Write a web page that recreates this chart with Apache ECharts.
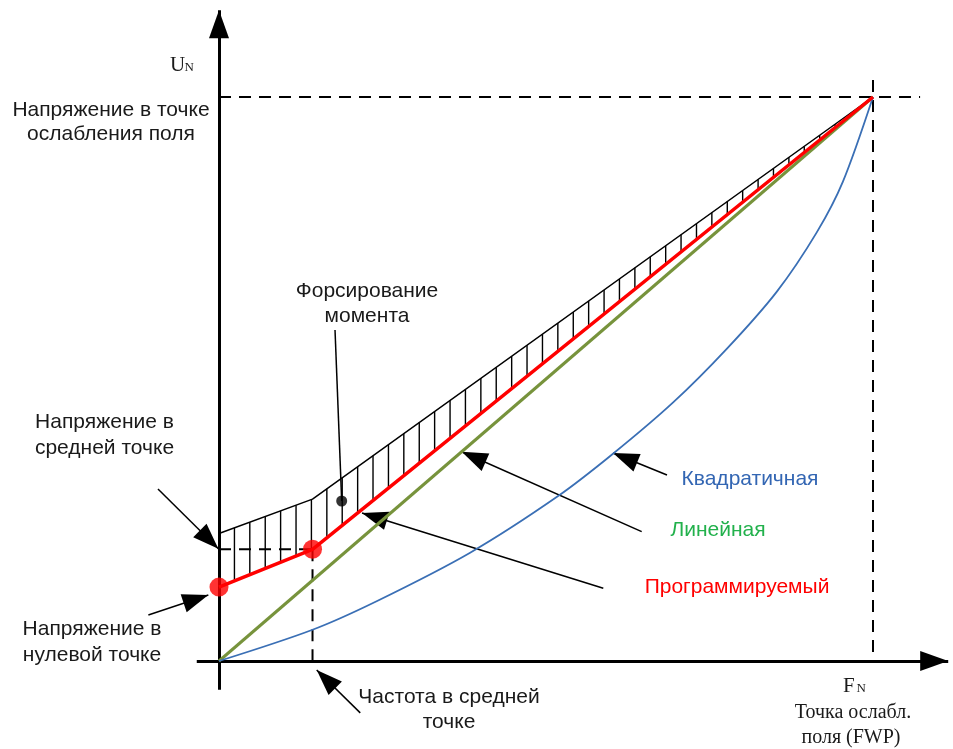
<!DOCTYPE html>
<html><head><meta charset="utf-8">
<script src="https://cdn.jsdelivr.net/npm/echarts@6/dist/echarts.min.js"></script>
<style>html,body{margin:0;padding:0;background:#fff}#c{width:953px;height:749px}</style>
</head><body><div id="c"></div>
<script>
// ---- data (x: 0..100 = 0..F_N ; y: 0..100 = 0..U_N) ----
const linearPts = [[0, 0], [100, 100]];
const quadPts = [[0, 0], [14.2, 5.5], [24.1, 10.6], [38.4, 19.2], [51.8, 29.2], [60.2, 36.7], [69.4, 45.8], [77.6, 55.3], [85.3, 65.5], [91.4, 76.0], [95.4, 85.0], [100, 100]];
const progPts = [[0, 13.1], [14.3, 19.8], [100, 100]];
const boostPts = [[0, 22.6], [14.3, 28.7], [100, 100]];
const hatchX = [2.36, 4.71, 7.07, 9.42, 11.78, 14.13, 16.49, 18.84, 21.2, 23.55, 25.91, 28.26, 30.62, 32.97, 35.33, 37.68, 40.04, 42.39, 44.75, 47.1, 49.46, 51.81, 54.17, 56.52, 58.88, 61.23, 63.59, 65.94, 68.3, 70.65, 73.01, 75.36, 77.72, 80.07, 82.43, 84.78, 87.14, 89.49, 91.85, 94.2];
const dotPts = [progPts[0], progPts[1]];
const boostDot = [[18.76, 28.37]];
const dashH1 = [[0, 100], [107.2, 100]];
const dashV1 = [[100, 103], [100, 0]];
const dashH2 = [[0, 19.8], [14.3, 19.8]];
const dashV2 = [[14.3, 19.8], [14.3, 0]];
const axisX = [[-3.4, 0], [111.5, 0]];
const axisY = [[0, -5.1], [0, 115.4]];
// annotation pointers: [from, to, hasHead]
const pointers = [
  [[-9.33, 30.5], [-0.1, 19.9], true],
  [[-10.8, 8.16], [-1.63, 11.7], true],
  [[21.6, -9.2], [14.94, -1.6], true],
  [[17.74, 58.69], [18.76, 28.37], false],
  [[68.5, 32.98], [60.24, 36.88], true],
  [[64.63, 22.93], [37.11, 37.11], true],
  [[58.76, 12.89], [21.87, 26.24], true]
];

// ---- layout ----
const W = 953, H = 749, X0 = 219, X1 = 873, Y0 = 661, Y1 = 97;
const sx = (X1 - X0) / 100, sy = (Y0 - Y1) / 100;
const SANS = '"Liberation Sans", Arial, sans-serif';
const SERIF = '"Liberation Serif", "Times New Roman", serif';

function interp(pts, x) {
  for (let i = 0; i < pts.length - 1; i++) {
    const a = pts[i], b = pts[i + 1];
    if (x >= a[0] && x <= b[0]) return a[1] + (b[1] - a[1]) * (x - a[0]) / (b[0] - a[0]);
  }
  return pts[pts.length - 1][1];
}
function ls(data, color, width, type, z, smooth) {
  return {type: 'line', data: data, symbol: 'none', smooth: smooth || false, silent: true, z: z,
    lineStyle: {color: color, width: width, type: type || 'solid', cap: 'butt'}};
}
function arrowItem(from, to, head, width, size) {
  return [
    {coord: from, symbol: 'none', lineStyle: {color: '#000', width: width, type: 'solid'}},
    {coord: to, symbol: head ? 'triangle' : 'none', symbolSize: size, symbolOffset: [0, '50%'], itemStyle: {color: '#000'}}
  ];
}
function txt(t, x, y, opt) {
  opt = opt || {};
  return {type: 'text', x: x, y: y, silent: true, z: 100,
    style: {text: t, font: (opt.size || 21) + 'px ' + (opt.family || SANS), fill: opt.color || '#1a1a1a',
      textAlign: opt.align || 'center', textVerticalAlign: 'middle'}};
}

const dash = [12, 8];
const markData = [
  arrowItem(axisX[0], axisX[1], true, 3, [20, 28]),
  arrowItem(axisY[0], axisY[1], true, 3, [20, 28])
].concat(pointers.map(p => arrowItem(p[0], p[1], p[2], 1.5, [19, 26])));

const option = {
  animation: false,
  grid: {left: 0, right: 0, top: 0, bottom: 0, containLabel: false},
  xAxis: {type: 'value', min: -X0 / sx, max: (W - X0) / sx, show: false},
  yAxis: {type: 'value', min: -(H - Y0) / sy, max: Y0 / sy, show: false},
  series: [
    {type: 'custom', z: 2, silent: true, data: hatchX.map(x => [x]),
      renderItem: function (params, api) {
        const x = api.value(0);
        const p1 = api.coord([x, interp(progPts, x)]);
        const p2 = api.coord([x, interp(boostPts, x)]);
        return {type: 'line', shape: {x1: p1[0], y1: p1[1], x2: p2[0], y2: p2[1]}, style: {stroke: '#000', lineWidth: 1.4}};
      }},
    ls(dashH1, '#000', 2, dash, 3),
    ls(dashV1, '#000', 2, dash, 3),
    ls(dashH2, '#000', 2, dash, 3),
    ls(dashV2, '#000', 2, dash, 3),
    ls(boostPts, '#000', 1.5, 'solid', 4),
    ls(linearPts, '#77933c', 3, 'solid', 5),
    ls(quadPts, '#3a6fb5', 1.8, 'solid', 5, 0.3),
    ls(progPts, '#ff0000', 3.5, 'solid', 6),
    {type: 'scatter', data: dotPts, symbolSize: 19, itemStyle: {color: '#ff0000'}, silent: true, z: 7},
    {type: 'scatter', data: boostDot, symbolSize: 11, itemStyle: {color: '#000'}, silent: true, z: 7},
    {type: 'line', data: [[0, 0]], symbol: 'none', silent: true, z: 8, lineStyle: {width: 0},
      markLine: {silent: true, animation: false, symbol: ['none', 'none'], label: {show: false},
        emphasis: {disabled: true}, data: markData}}
  ],
  graphic: [
    txt('U', 170, 65, {family: SERIF, size: 21, align: 'left'}),
    txt('N', 184.5, 67.6, {family: SERIF, size: 13, align: 'left'}),
    txt('Напряжение в точке', 111, 110.7),
    txt('ослабления поля', 111, 134.7),
    txt('Форсирование', 367, 291),
    txt('момента', 367, 316),
    txt('Напряжение в', 104.5, 422),
    txt('средней точке', 104.5, 448),
    txt('Напряжение в', 92, 629),
    txt('нулевой точке', 92, 655),
    txt('Частота в средней', 449, 697),
    txt('точке', 449, 722),
    txt('Квадратичная', 750, 479, {color: '#3366b3'}),
    txt('Линейная', 718, 530, {color: '#22b14c'}),
    txt('Программируемый', 737, 587, {color: '#ff0000'}),
    txt('F', 843, 686, {family: SERIF, size: 21, align: 'left'}),
    txt('N', 856.5, 688.6, {family: SERIF, size: 13, align: 'left'}),
    txt('Точка ослабл.', 853, 713, {family: SERIF, size: 20}),
    txt('поля (FWP)', 851, 738, {family: SERIF, size: 20})
  ]
};
const chart = echarts.init(document.getElementById('c'));
chart.setOption(option);
</script>
</body></html>
